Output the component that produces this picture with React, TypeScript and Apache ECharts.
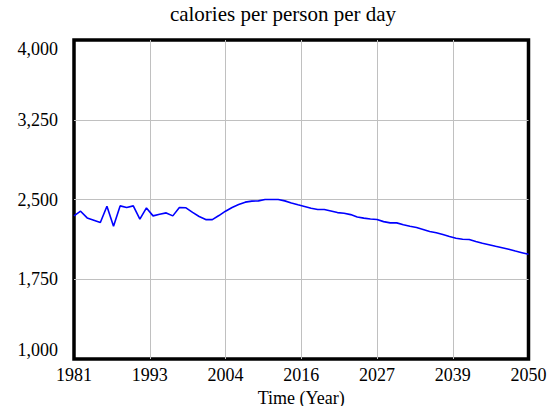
import React, { useEffect, useRef } from "react";
import * as echarts from "echarts";

const years: number[] = [];
for (let y = 1981; y <= 2050; y++) years.push(y);

const calories: number[] = [
  2346, 2390, 2327, 2305, 2283, 2437, 2249, 2440, 2425, 2440,
  2315, 2421, 2346, 2362, 2374, 2346, 2425, 2422, 2379, 2340,
  2311, 2311, 2349, 2390, 2425, 2452, 2475, 2485, 2487, 2500,
  2500, 2500, 2487, 2467, 2450, 2435, 2418, 2406, 2406, 2392,
  2377, 2371, 2358, 2336, 2325, 2316, 2312, 2292, 2280, 2280,
  2263, 2248, 2236, 2218, 2199, 2187, 2170, 2152, 2135, 2126,
  2124, 2105, 2088, 2075, 2060, 2047, 2033, 2015, 2000, 1985,
];

const X_START = 1981;
const X_END = 2050;
const X_STEP = 11.5;
const Y_MIN = 1000;
const Y_MAX = 4000;
const Y_STEP = 750;

const TITLE = "calories per person per day";
const X_NAME = "Time (Year)";

const SERIF = "Liberation Serif";

export default function App() {
  const ref = useRef<HTMLDivElement>(null);
  useEffect(() => {
    if (!ref.current) return;
    const chart = echarts.init(ref.current, undefined, { renderer: "svg" });
    const data = years.map((y, i) => [y - X_START, calories[i] - Y_MIN]);
    chart.setOption({
      animation: false,
      backgroundColor: "#ffffff",
      title: {
        text: TITLE,
        left: 283,
        top: 3,
        padding: 0,
        textAlign: "center",
        textStyle: {
          fontFamily: SERIF,
          fontSize: 21,
          fontWeight: "normal",
          color: "#000",
        },
      },
      grid: {
        left: 74,
        right: 20.5,
        top: 40,
        bottom: 47,
        containLabel: false,
        outerBoundsMode: "none",
        show: true,
        borderColor: "#000",
        borderWidth: 3.5,
        backgroundColor: "transparent",
      },
      xAxis: {
        type: "value",
        min: 0,
        max: X_END - X_START,
        interval: X_STEP,
        name: X_NAME,
        nameLocation: "middle",
        nameGap: 21,
        nameTextStyle: { fontFamily: SERIF, fontSize: 18, fontWeight: "normal", color: "#000" },
        axisLine: { show: false },
        axisTick: { show: false },
        axisLabel: {
          margin: 7,
          fontFamily: SERIF,
          fontSize: 18,
          fontWeight: "normal",
          color: "#000",
          formatter: (v: number) => String(Math.round(v + X_START)),
        },
        splitLine: {
          show: true,
          showMinLine: false,
          showMaxLine: false,
          lineStyle: { color: "#c0c0c0", width: 1 },
        },
      },
      yAxis: {
        type: "value",
        min: 0,
        max: Y_MAX - Y_MIN,
        interval: Y_STEP,
        axisLine: { show: false },
        axisTick: { show: false },
        axisLabel: {
          margin: 16,
          fontFamily: SERIF,
          fontSize: 18,
          fontWeight: "normal",
          color: "#000",
          verticalAlignMaxLabel: "top",
          verticalAlignMinLabel: "bottom",
          formatter: (v: number) => (v + Y_MIN).toLocaleString("en-US"),
        },
        splitLine: {
          show: true,
          showMinLine: false,
          showMaxLine: false,
          lineStyle: { color: "#c0c0c0", width: 1 },
        },
      },
      series: [
        {
          type: "line",
          data,
          showSymbol: false,
          symbol: "none",
          lineStyle: { color: "#0000ff", width: 1.6 },
          itemStyle: { color: "#0000ff" },
        },
      ],
    });
    return () => chart.dispose();
  }, []);
  return (
    <div
      ref={ref}
      style={{ position: "fixed", left: 0, top: 0, width: 549, height: 406 }}
    />
  );
}
